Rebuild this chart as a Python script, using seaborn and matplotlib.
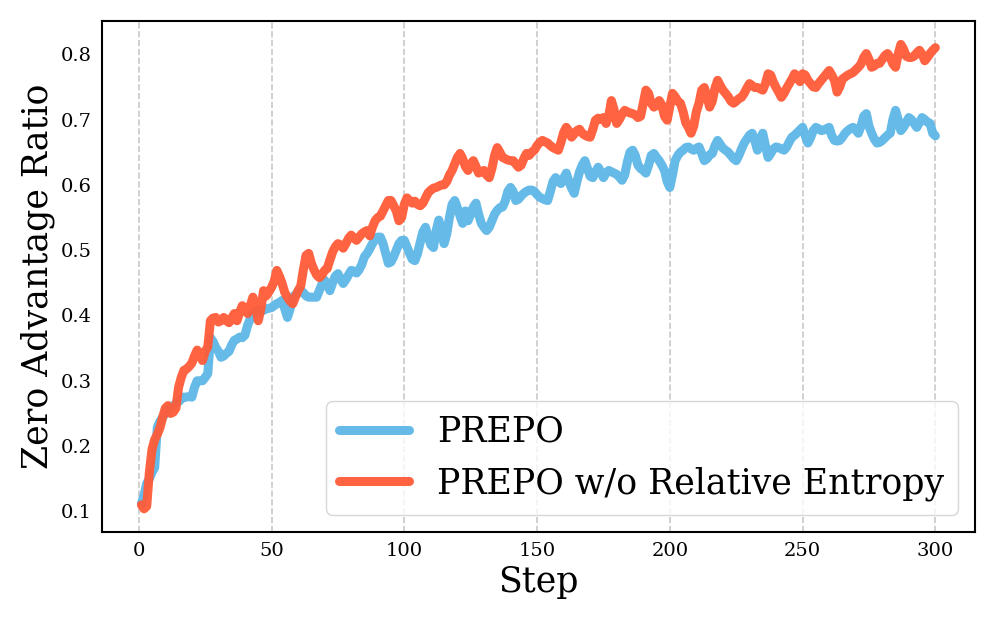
import numpy as np
import pandas as pd
import matplotlib
matplotlib.use("Agg")
import matplotlib.pyplot as plt
import seaborn as sns

# Zero advantage ratio per training step
steps = list(range(1, 301))

prepo = [
    0.112, 0.125, 0.143, 0.150, 0.160, 0.167, 0.229, 0.238, 0.244, 0.250,
    0.255, 0.258, 0.262, 0.265, 0.268, 0.272, 0.275, 0.275, 0.276, 0.275,
    0.290, 0.300, 0.300, 0.300, 0.305, 0.311, 0.366, 0.360, 0.351, 0.345,
    0.336, 0.338, 0.342, 0.345, 0.355, 0.362, 0.364, 0.367, 0.366, 0.370,
    0.385, 0.395, 0.403, 0.405, 0.408, 0.406, 0.408, 0.410, 0.411, 0.412,
    0.415, 0.418, 0.420, 0.423, 0.410, 0.397, 0.410, 0.428, 0.432, 0.435,
    0.438, 0.435, 0.430, 0.428, 0.428, 0.428, 0.428, 0.438, 0.448, 0.454,
    0.448, 0.438, 0.450, 0.460, 0.464, 0.456, 0.449, 0.455, 0.462, 0.469,
    0.468, 0.465, 0.470, 0.478, 0.490, 0.495, 0.502, 0.510, 0.516, 0.520,
    0.520, 0.510, 0.495, 0.480, 0.482, 0.490, 0.500, 0.510, 0.515, 0.515,
    0.505, 0.495, 0.486, 0.484, 0.495, 0.512, 0.528, 0.535, 0.520, 0.508,
    0.504, 0.530, 0.546, 0.530, 0.510, 0.525, 0.550, 0.570, 0.576, 0.565,
    0.552, 0.541, 0.560, 0.545, 0.555, 0.566, 0.572, 0.555, 0.541, 0.535,
    0.530, 0.535, 0.545, 0.555, 0.561, 0.565, 0.566, 0.575, 0.590, 0.596,
    0.590, 0.576, 0.578, 0.583, 0.587, 0.590, 0.592, 0.592, 0.590, 0.585,
    0.581, 0.579, 0.577, 0.576, 0.590, 0.605, 0.611, 0.606, 0.602, 0.610,
    0.618, 0.605, 0.595, 0.587, 0.605, 0.620, 0.630, 0.637, 0.625, 0.613,
    0.611, 0.620, 0.627, 0.620, 0.611, 0.618, 0.622, 0.620, 0.618, 0.616,
    0.612, 0.607, 0.615, 0.635, 0.650, 0.653, 0.645, 0.630, 0.625, 0.622,
    0.618, 0.630, 0.645, 0.648, 0.642, 0.637, 0.630, 0.622, 0.605, 0.596,
    0.615, 0.637, 0.645, 0.650, 0.653, 0.657, 0.658, 0.655, 0.653, 0.656,
    0.658, 0.648, 0.637, 0.640, 0.646, 0.648, 0.660, 0.668, 0.662, 0.656,
    0.653, 0.650, 0.645, 0.640, 0.637, 0.645, 0.655, 0.664, 0.670, 0.676,
    0.679, 0.668, 0.653, 0.670, 0.679, 0.660, 0.642, 0.648, 0.655, 0.658,
    0.657, 0.655, 0.653, 0.658, 0.666, 0.673, 0.676, 0.680, 0.684, 0.688,
    0.675, 0.664, 0.672, 0.683, 0.688, 0.686, 0.683, 0.684, 0.686, 0.688,
    0.675, 0.668, 0.667, 0.668, 0.673, 0.679, 0.683, 0.686, 0.688, 0.684,
    0.679, 0.690, 0.705, 0.709, 0.690, 0.679, 0.670, 0.664, 0.665, 0.668,
    0.672, 0.676, 0.679, 0.700, 0.714, 0.700, 0.683, 0.688, 0.695, 0.703,
    0.700, 0.694, 0.688, 0.695, 0.703, 0.700, 0.696, 0.694, 0.679, 0.675,
]

prepo_no_re = [
    0.110, 0.104, 0.108, 0.160, 0.195, 0.210, 0.218, 0.228, 0.244, 0.258,
    0.262, 0.250, 0.252, 0.258, 0.290, 0.305, 0.316, 0.318, 0.322, 0.327,
    0.338, 0.347, 0.340, 0.331, 0.345, 0.352, 0.392, 0.396, 0.397, 0.390,
    0.392, 0.397, 0.392, 0.389, 0.396, 0.403, 0.392, 0.405, 0.415, 0.408,
    0.403, 0.415, 0.428, 0.415, 0.392, 0.410, 0.438, 0.430, 0.436, 0.443,
    0.452, 0.469, 0.460, 0.449, 0.435, 0.428, 0.422, 0.418, 0.428, 0.438,
    0.445, 0.470, 0.492, 0.495, 0.480, 0.470, 0.462, 0.458, 0.462, 0.469,
    0.472, 0.485, 0.497, 0.505, 0.510, 0.508, 0.503, 0.510, 0.518, 0.523,
    0.519, 0.515, 0.520, 0.525, 0.528, 0.530, 0.522, 0.535, 0.545, 0.550,
    0.552, 0.560, 0.568, 0.576, 0.576, 0.568, 0.560, 0.545, 0.550, 0.570,
    0.580, 0.576, 0.572, 0.575, 0.570, 0.568, 0.572, 0.580, 0.588, 0.592,
    0.595, 0.596, 0.598, 0.600, 0.600, 0.605, 0.615, 0.622, 0.632, 0.642,
    0.648, 0.640, 0.628, 0.622, 0.632, 0.637, 0.628, 0.618, 0.620, 0.622,
    0.615, 0.611, 0.625, 0.645, 0.657, 0.650, 0.642, 0.640, 0.638, 0.637,
    0.637, 0.632, 0.627, 0.630, 0.640, 0.648, 0.645, 0.650, 0.653, 0.660,
    0.665, 0.668, 0.666, 0.664, 0.660, 0.657, 0.655, 0.653, 0.665, 0.680,
    0.688, 0.682, 0.673, 0.678, 0.683, 0.685, 0.679, 0.676, 0.674, 0.673,
    0.685, 0.699, 0.702, 0.700, 0.703, 0.694, 0.705, 0.729, 0.715, 0.694,
    0.700, 0.708, 0.714, 0.712, 0.710, 0.709, 0.707, 0.703, 0.705, 0.725,
    0.745, 0.740, 0.725, 0.719, 0.722, 0.729, 0.722, 0.705, 0.699, 0.720,
    0.740, 0.735, 0.728, 0.725, 0.712, 0.695, 0.688, 0.679, 0.690, 0.712,
    0.725, 0.745, 0.749, 0.735, 0.719, 0.728, 0.748, 0.760, 0.752, 0.745,
    0.740, 0.735, 0.728, 0.725, 0.728, 0.732, 0.734, 0.740, 0.748, 0.755,
    0.752, 0.749, 0.749, 0.747, 0.745, 0.755, 0.770, 0.768, 0.757, 0.749,
    0.742, 0.734, 0.740, 0.748, 0.755, 0.762, 0.770, 0.765, 0.758, 0.770,
    0.768, 0.760, 0.755, 0.750, 0.749, 0.755, 0.760, 0.765, 0.770, 0.775,
    0.768, 0.760, 0.742, 0.750, 0.762, 0.765, 0.768, 0.770, 0.772, 0.776,
    0.780, 0.785, 0.795, 0.801, 0.792, 0.780, 0.782, 0.786, 0.786, 0.792,
    0.798, 0.801, 0.795, 0.785, 0.780, 0.800, 0.815, 0.808, 0.797, 0.795,
    0.795, 0.797, 0.802, 0.806, 0.800, 0.790, 0.795, 0.801, 0.806, 0.810,
]

labels = ["PREPO", "PREPO w/o Relative Entropy"]
colors = ["#5DB7E6", "#FF5B38"]

df = pd.DataFrame({
    "Step": steps * 2,
    "Ratio": prepo + prepo_no_re,
    "Method": [labels[0]] * len(steps) + [labels[1]] * len(steps),
})

sns.set_style("white")
plt.rcParams["font.family"] = ["DejaVu Serif"]
plt.rcParams["text.color"] = "black"
plt.rcParams["axes.labelcolor"] = "black"
plt.rcParams["xtick.color"] = "black"
plt.rcParams["ytick.color"] = "black"

fig, ax = plt.subplots(figsize=(9.97, 6.23), dpi=100)
sns.lineplot(data=df, x="Step", y="Ratio", hue="Method", palette=colors,
             linewidth=6.5, alpha=0.95, ax=ax)

ax.set_xticks([0, 50, 100, 150, 200, 250, 300])
ax.set_yticks([0.1, 0.2, 0.3, 0.4, 0.5, 0.6, 0.7, 0.8])
ax.tick_params(axis="both", labelsize=14, colors="black")
ax.xaxis.grid(True, linestyle="--", color="#c8c8c8", linewidth=1.2)
ax.yaxis.grid(False)
for sp in ax.spines.values():
    sp.set_color("black")
    sp.set_linewidth(1.5)

ax.set_xlabel("Step", fontsize=25)
ax.set_ylabel("Zero Advantage Ratio", fontsize=25)

leg = ax.legend(loc="lower right", fontsize=25, frameon=True, handlelength=2.0)
for line in leg.get_lines():
    line.set_linewidth(6.5)
for t in leg.get_texts():
    t.set_color("black")

plt.subplots_adjust(left=0.102, right=0.978, top=0.966, bottom=0.146)
plt.savefig("out.png", dpi=100)
